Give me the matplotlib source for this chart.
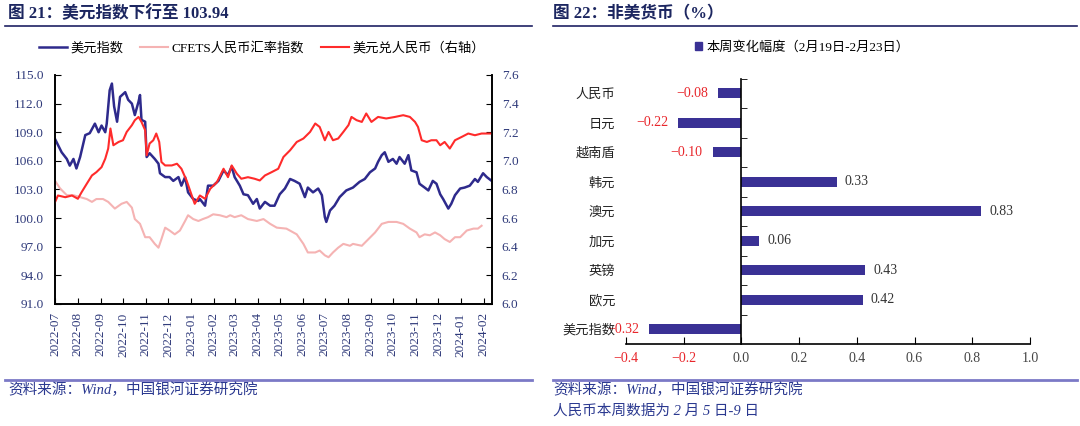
import matplotlib
matplotlib.use("Agg")
import matplotlib.pyplot as plt
import matplotlib.dates as mdates
from matplotlib.lines import Line2D
from matplotlib.patches import Patch
import pandas as pd

plt.rcParams['font.family'] = ['Liberation Serif', 'Noto Sans CJK SC']
plt.rcParams['axes.unicode_minus'] = True

# ---- 图21 数据：天数偏移（自 2022-07-01 起）+ 数值 ----
start = pd.Timestamp('2022-07-01')

usd_days = [0, 9, 16, 20, 25, 29, 34, 41, 47, 54, 59, 63, 68, 70, 74, 77, 80, 84, 88,
            95, 99, 104, 108, 113, 115, 117, 122, 124, 128, 135, 140, 142, 149, 155,
            160, 167, 171, 176, 180, 187, 194, 196, 203, 207, 214, 221, 228, 234, 239,
            243, 250, 255, 261, 268, 273, 277, 284, 291, 297, 304, 311, 318, 324, 331,
            338, 342, 349, 356, 361, 365, 367, 372, 378, 385, 394, 403, 412, 419, 426,
            433, 437, 442, 446, 451, 457, 462, 466, 473, 478, 482, 489, 493, 500, 505,
            511, 516, 521, 525, 532, 536, 541, 548, 554, 561, 568, 572, 579, 584, 590]
usd = [108.3, 106.9, 106.2, 105.5, 106.2, 105.2, 106.4, 108.7, 108.9, 109.9, 109.0,
       109.7, 109.0, 109.9, 113.4, 114.1, 111.7, 110.1, 112.7, 113.2, 112.4, 112.0,
       110.8, 112.2, 112.9, 110.3, 110.1, 106.4, 106.8, 106.2, 105.7, 104.7, 104.3,
       104.3, 103.9, 104.3, 103.4, 104.3, 102.7, 102.0, 101.8, 102.0, 101.3, 103.4,
       103.4, 103.9, 105.0, 104.5, 105.4, 104.3, 103.4, 102.5, 102.4, 101.5, 102.0,
       101.0, 101.7, 101.3, 101.3, 102.5, 103.1, 104.1, 103.9, 103.6, 102.2, 103.2,
       102.7, 103.1, 102.4, 100.1, 99.6, 100.8, 101.3, 102.2, 102.9, 103.2, 103.8,
       104.1, 104.8, 105.2, 105.9, 106.6, 106.9, 105.9, 106.2, 105.7, 106.4, 105.7,
       106.6, 105.0, 104.8, 103.6, 103.2, 102.9, 103.9, 103.6, 102.5, 102.0, 101.0,
       101.5, 102.4, 103.1, 103.2, 103.4, 104.1, 103.8, 104.7, 104.3, 103.94]

cfets_days = [1, 7, 16, 25, 34, 43, 50, 56, 65, 72, 81, 90, 97, 104, 108, 115, 122,
              128, 135, 140, 144, 149, 155, 162, 169, 176, 180, 187, 194, 200, 207,
              214, 223, 232, 237, 243, 252, 261, 273, 282, 291, 300, 313, 327, 336,
              342, 352, 358, 365, 370, 376, 383, 390, 399, 403, 415, 424, 433, 442,
              451, 462, 471, 480, 489, 493, 500, 507, 514, 521, 527, 534, 541, 548,
              557, 566, 572, 577]
cfets = [103.8, 103.1, 102.4, 102.4, 102.2, 102.0, 101.7, 102.0, 102.0, 101.7, 101.0,
         101.5, 101.7, 101.1, 99.9, 99.4, 98.0, 98.0, 97.3, 96.9, 97.8, 99.0, 98.7,
         98.3, 98.7, 99.7, 100.3, 99.9, 99.7, 99.9, 100.1, 100.4, 100.3, 100.1, 100.3,
         100.1, 100.3, 99.9, 99.7, 99.9, 99.4, 99.0, 98.9, 98.3, 97.3, 96.4, 96.4,
         96.6, 96.1, 95.9, 96.4, 96.9, 97.3, 97.1, 97.3, 97.1, 97.8, 98.5, 99.4, 99.6,
         99.6, 99.4, 98.9, 98.5, 98.0, 98.3, 98.2, 98.5, 98.2, 97.8, 97.5, 98.0, 98.0,
         98.7, 98.9, 98.9, 99.2]

cny_days = [0, 4, 14, 23, 31, 36, 43, 50, 56, 63, 68, 72, 75, 79, 86, 92, 97, 104,
            108, 113, 117, 122, 124, 128, 133, 137, 141, 144, 149, 158, 165, 171, 178,
            185, 189, 196, 203, 210, 219, 228, 234, 239, 246, 252, 261, 270, 277, 284,
            293, 302, 309, 318, 327, 336, 345, 352, 358, 365, 370, 376, 383, 390, 397,
            401, 408, 415, 421, 428, 437, 448, 460, 471, 480, 487, 491, 496, 503, 509,
            516, 521, 527, 534, 541, 550, 559, 568, 577, 590]
cny = [6.711, 6.758, 6.746, 6.758, 6.735, 6.781, 6.840, 6.898, 6.921, 6.956, 7.015,
       7.086, 7.226, 7.109, 7.132, 7.144, 7.202, 7.249, 7.284, 7.307, 7.272, 7.214,
       7.039, 7.121, 7.144, 7.191, 7.132, 6.992, 6.968, 6.968, 6.980, 6.945, 6.863,
       6.758, 6.700, 6.758, 6.735, 6.805, 6.851, 6.945, 6.886, 6.968, 6.910, 6.875,
       6.886, 6.875, 6.863, 6.898, 6.921, 6.945, 7.027, 7.074, 7.132, 7.156, 7.202,
       7.261, 7.237, 7.144, 7.202, 7.144, 7.156, 7.202, 7.250, 7.307, 7.284, 7.272,
       7.331, 7.272, 7.307, 7.296, 7.307, 7.319, 7.307, 7.272, 7.237, 7.144, 7.132,
       7.144, 7.144, 7.109, 7.132, 7.086, 7.144, 7.167, 7.191, 7.179, 7.191, 7.191]

left_ticks = [91.0, 94.0, 97.0, 100.0, 103.0, 106.0, 109.0, 112.0, 115.0]
right_ticks = [6.0, 6.2, 6.4, 6.6, 6.8, 7.0, 7.2, 7.4, 7.6]

# ---- 图22 数据 ----
currencies = ['人民币', '日元', '越南盾', '韩元', '澳元', '加元', '英镑', '欧元', '美元指数']
week_change = [-0.08, -0.22, -0.10, 0.33, 0.83, 0.06, 0.43, 0.42, -0.32]
bar_ticks = [-0.4, -0.2, 0.0, 0.2, 0.4, 0.6, 0.8, 1.0]

BLUE = '#2E2A8C'
RED = '#FF2B2B'
PINK = '#F5B3B3'
BAR = '#3A3195'
NEG = '#E8262B'
NAVY = '#2F3A7A'
TITLE = '#1C2660'

fig = plt.figure(figsize=(10.8, 4.26), dpi=100)


def to_dates(days):
    return start + pd.to_timedelta(days, unit='D')


# ---------- 左图 ----------
ax1 = fig.add_axes([0.0509, 0.2864, 0.4046, 0.5376])
l1, = ax1.plot(to_dates(usd_days), usd, color=BLUE, lw=1.8, label='美元指数')
l2, = ax1.plot(to_dates(cfets_days), cfets, color=PINK, lw=1.5, label='CFETS人民币汇率指数')
ax2 = ax1.twinx()
l3, = ax2.plot(to_dates(cny_days), cny, color=RED, lw=1.5, label='美元兑人民币（右轴）')

ax1.set_xlim(start, start + pd.Timedelta(days=591))
ax1.set_ylim(91, 115)
ax1.set_yticks(left_ticks)
ax1.set_yticklabels([f'{v:.1f}' for v in left_ticks])
ax2.set_ylim(6.0, 7.6)
ax2.set_yticks(right_ticks)
ax2.set_yticklabels([f'{v:.1f}' for v in right_ticks])

ax1.xaxis.set_major_locator(mdates.MonthLocator())
ax1.xaxis.set_major_formatter(mdates.DateFormatter('%Y-%m'))
ax1.tick_params(axis='x', direction='in', length=4, rotation=90, labelsize=9.5,
                labelcolor=NAVY, pad=6)
ax1.tick_params(axis='y', direction='in', length=4, labelsize=9.5, labelcolor=NAVY, pad=8)
ax2.tick_params(axis='y', direction='in', length=4, labelsize=9.5, labelcolor=NAVY, pad=7)
for a in (ax1, ax2):
    a.spines['top'].set_visible(False)
    for s in a.spines.values():
        s.set_linewidth(1.2)

fig.legend(handles=[l1, l2, l3], loc='center', bbox_to_anchor=(0.2425, 0.887), ncol=3,
           frameon=False, fontsize=9.5, handlelength=2.1, columnspacing=1.3,
           handletextpad=0.25)

# ---------- 右图 ----------
ax3 = fig.add_axes([0.5796, 0.1925, 0.3741, 0.623])
pos = list(range(len(currencies)))
ax3.barh(pos, week_change, height=0.34, color=BAR)
ax3.set_xlim(-0.4, 1.0)
ax3.set_ylim(len(currencies) - 0.5, -0.5)
ax3.set_xticks(bar_ticks)
ax3.set_xticklabels([f'{v:.1f}'.replace('-', '\u2212') for v in bar_ticks])
for lbl, v in zip(ax3.get_xticklabels(), bar_ticks):
    lbl.set_color(NEG if v < 0 else '#444444')
ax3.set_yticks(pos)
ax3.set_yticklabels(currencies)
for lbl in ax3.get_yticklabels():
    lbl.set_bbox(dict(facecolor='white', edgecolor='none', pad=0))
ax3.set_yticks([p + 0.5 for p in pos[:-1]] + [-0.5], minor=True)
ax3.spines['left'].set_position(('data', 0))
ax3.spines['top'].set_visible(False)
ax3.spines['right'].set_visible(False)
ax3.spines['left'].set_linewidth(1.2)
ax3.spines['bottom'].set_linewidth(1.2)
ax3.tick_params(axis='y', which='major', length=0, pad=91, labelsize=9.5,
                labelcolor='#222222')
ax3.tick_params(axis='y', which='minor', direction='in', length=4)
ax3.tick_params(axis='x', direction='in', length=5, labelsize=10, pad=6)

for p, v in zip(pos, week_change):
    if v >= 0:
        ax3.annotate(f'{v:.2f}', (v, p), xytext=(6, 0), textcoords='offset points',
                     ha='left', va='center', fontsize=10, color='#333333')
    else:
        # 放在坐标轴标签之下，与原图一致（美元指数的负号被标签遮住）
        ax3.annotate('\u2212' + f'{abs(v):.2f}', (v, p), xytext=(-7, 0),
                     textcoords='offset points', ha='right', va='center',
                     fontsize=10, color=NEG, zorder=1.2)

fig.legend(handles=[Patch(color=BAR)], labels=['本周变化幅度（2月19日-2月23日）'],
           loc='center', bbox_to_anchor=(0.7426, 0.889), frameon=False, fontsize=9.5,
           handlelength=0.6, handleheight=0.6, handletextpad=0.3)

# ---------- 标题、分隔线、来源 ----------
fig.text(8 / 1080, 1 - 14 / 426, '图 21：美元指数下行至 103.94', fontsize=12,
         fontweight='bold', color=TITLE, va='center')
fig.text(553 / 1080, 1 - 14 / 426, '图 22：非美货币（%）', fontsize=12,
         fontweight='bold', color=TITLE, va='center')
for x0, x1 in [(5, 532), (553, 1077)]:
    fig.add_artist(Line2D([x0 / 1080, x1 / 1080], [1 - 26 / 426] * 2,
                          transform=fig.transFigure, color='#1F2163', lw=1.2))
    fig.add_artist(Line2D([x0 / 1080, x1 / 1080], [1 - 380 / 426] * 2,
                          transform=fig.transFigure, color='#7B79C6', lw=2))

src_kw = dict(fontsize=10.5, style='italic', color='#2B3990', va='center')
fig.text(8 / 1080, 1 - 390 / 426, '资料来源：Wind，中国银河证券研究院', **src_kw)
fig.text(553 / 1080, 1 - 390 / 426, '资料来源：Wind，中国银河证券研究院', **src_kw)
fig.text(553 / 1080, 1 - 411 / 426, '人民币本周数据为 2 月 5 日-9 日', **src_kw)

fig.savefig('out.png', dpi=100)
